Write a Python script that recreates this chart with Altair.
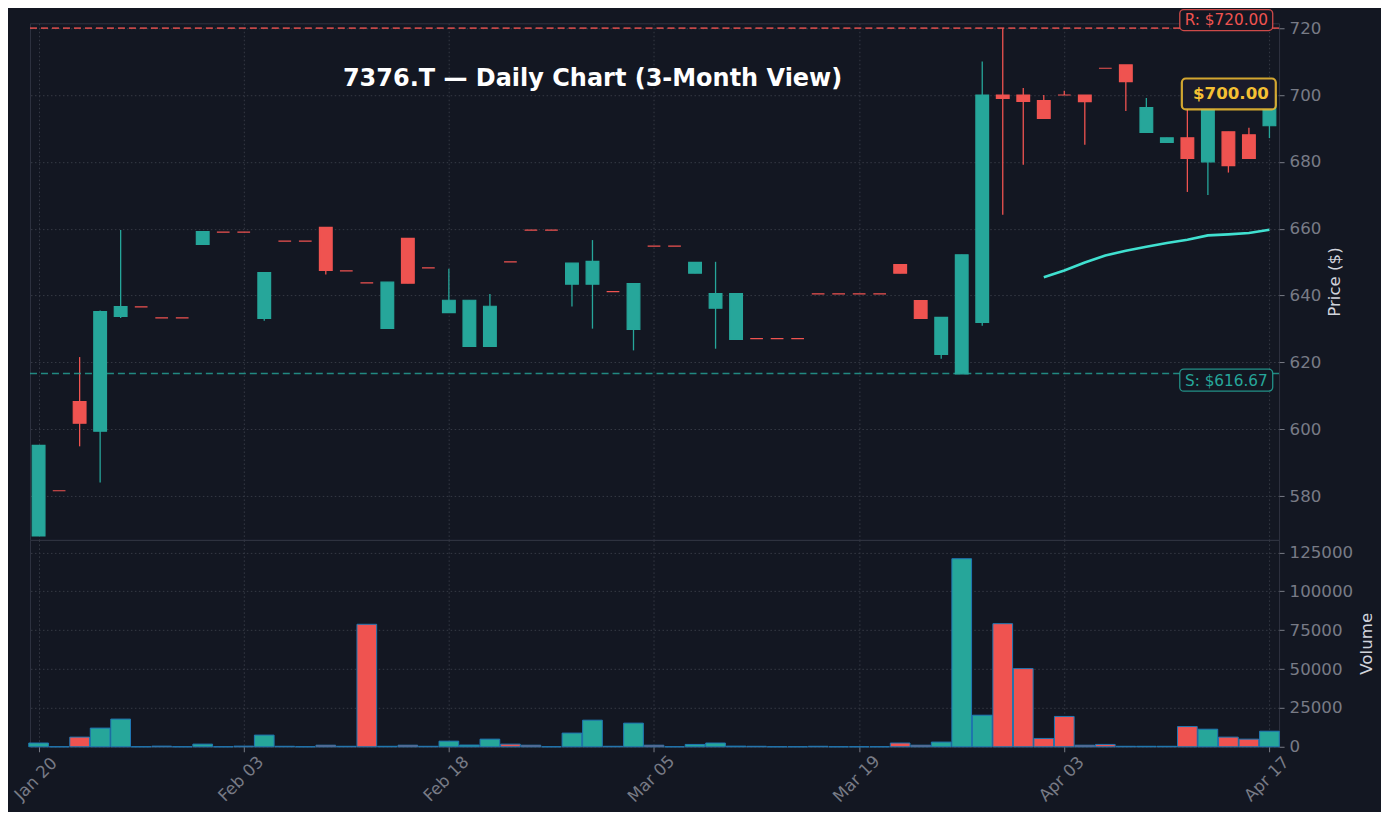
import altair as alt
import pandas as pd
import numpy as np

# ---------------- data ----------------
tick_idx = [0, 10, 20, 30, 40, 50, 60]
tick_labels = ["Jan 20", "Feb 03", "Feb 18", "Mar 05", "Mar 19", "Apr 03", "Apr 17"]

opens = [568.1, 581.6, 608.3, 599.4, 633.8, 636.6, 633.3, 633.3, 655.3, 659.0,
         659.0, 633.2, 656.3, 656.3, 660.4, 647.4, 643.8, 630.2, 657.1, 648.3,
         634.9, 624.8, 624.8, 650.1, 659.6, 659.6, 643.4, 643.4, 641.2, 629.9,
         654.8, 654.8, 646.7, 636.2, 626.9, 627.1, 627.1, 627.1, 640.5, 640.5,
         640.5, 640.5, 649.3, 638.5, 622.4, 616.6, 632.0, 700.0, 700.0, 698.3,
         700.0, 700.0, 708.0, 709.0, 688.8, 685.8, 687.2, 680.0, 689.0, 688.1,
         690.8]
highs = [595.2, 581.6, 621.6, 635.5, 659.6, 636.6, 633.3, 633.3, 659.1, 659.0,
         659.0, 646.9, 656.3, 656.3, 660.4, 647.4, 643.8, 644.0, 657.1, 648.3,
         648.0, 638.6, 640.5, 650.1, 659.6, 659.6, 649.7, 656.6, 641.2, 643.6,
         654.8, 654.8, 649.9, 650.1, 640.6, 627.1, 627.1, 627.1, 640.5, 640.5,
         640.5, 640.5, 649.3, 638.5, 633.5, 652.2, 710.0, 720.0, 702.1, 700.0,
         701.3, 700.0, 708.0, 709.0, 699.1, 687.2, 697.0, 700.0, 689.0, 690.2,
         700.0]
lows = [568.1, 581.6, 594.9, 584.1, 633.3, 636.6, 633.3, 633.3, 655.3, 659.0,
        659.0, 632.5, 656.3, 656.3, 646.3, 647.4, 643.8, 630.2, 643.7, 648.3,
        634.9, 624.8, 624.8, 650.1, 659.6, 659.6, 636.7, 630.1, 641.2, 623.6,
        654.8, 654.8, 646.7, 624.1, 626.9, 627.1, 627.1, 627.1, 640.5, 640.5,
        640.5, 640.5, 646.7, 633.2, 621.1, 616.6, 631.0, 664.2, 679.1, 693.0,
        700.0, 685.1, 708.0, 695.2, 688.8, 685.8, 671.0, 670.1, 676.8, 681.0,
        687.1]
closes = [595.2, 581.6, 601.8, 635.2, 636.7, 636.6, 633.3, 633.3, 659.1, 659.0,
          659.0, 646.9, 656.3, 656.3, 647.5, 647.4, 643.8, 644.0, 643.7, 648.3,
          638.6, 638.6, 636.8, 650.1, 659.6, 659.6, 649.7, 650.2, 641.2, 643.6,
          654.8, 654.8, 649.9, 640.6, 640.6, 627.1, 627.1, 627.1, 640.5, 640.5,
          640.5, 640.5, 646.7, 633.2, 633.5, 652.2, 700.0, 699.0, 698.1, 693.0,
          700.0, 698.0, 708.0, 704.0, 696.2, 687.2, 681.0, 699.0, 678.9, 681.0,
          700.0]
volumes = [2400, 0, 6200, 12000, 17800, 0, 400, 0, 1700, 0,
           400, 7500, 300, 0, 1000, 300, 78800, 300, 1000, 300,
           3600, 1100, 4900, 1700, 1000, 0, 8800, 17100, 300, 15200,
           1000, 0, 1500, 2400, 400, 300, 0, 0, 300, 0,
           0, 0, 2400, 1000, 3000, 121000, 20300, 79200, 50300, 5350,
           19500, 1000, 1500, 300, 300, 300, 13000, 11300, 6200, 4900,
           10000]
ma_index = [49, 50, 51, 52, 53, 54, 55, 56, 57, 58, 59, 60]
ma_values = [645.5, 647.5, 649.9, 652.0, 653.4, 654.6, 655.7, 656.7, 658.0, 658.3, 658.7, 659.7]

support = 616.67
resistance = 720.0
last_price = 700.0
title_text = "7376.T — Daily Chart (3-Month View)"

# ---------------- style ----------------
BG = "#131722"
UP = "#26a69a"
DOWN = "#ef5350"
GRID = "#363a45"
LABEL = "#787b86"
TITLE_C = "#d1d4dc"
YELLOW = "#f5c033"
FONT = "DejaVu Sans"
TICK_FS = 16.67

df = pd.DataFrame({"i": list(range(len(opens))), "open": opens, "high": highs,
                   "low": lows, "close": closes, "volume": volumes})
df["dir"] = np.where(df["close"] > df["open"], "up", "down")
df["lo"] = df[["open", "close"]].min(axis=1)
df["hi"] = df[["open", "close"]].max(axis=1)

ma_df = pd.DataFrame({"i": ma_index, "ma": ma_values})

xscale = alt.Scale(domain=[-0.42, 60.47], nice=False, zero=False)
yscale = alt.Scale(domain=[566.9, 721.46], nice=False, zero=False)
vscale = alt.Scale(domain=[0, 133100], nice=False, zero=False)
cscale = alt.Scale(domain=["up", "down"], range=[UP, DOWN])

label_expr = "[" + ",".join("'%s'" % t for t in tick_labels) + "][round(datum.value/10)]"

x_grid_axis = alt.Axis(values=tick_idx, grid=True, labels=False, ticks=False, domain=False,
                       title=None, gridColor=GRID, gridDash=[1.5, 2.5], gridWidth=1)
y_price_axis = alt.Axis(orient="right", values=[580, 600, 620, 640, 660, 680, 700, 720],
                        grid=True, gridColor=GRID, gridDash=[1.5, 2.5], gridWidth=1,
                        domain=False, tickColor=LABEL, tickSize=5, labelPadding=5,
                        title="Price ($)", titleAngle=270, titlePadding=23)


def PX(field):
    return alt.X(field, scale=xscale, axis=x_grid_axis)


def PY(field):
    return alt.Y(field, scale=yscale, axis=y_price_axis)


base = alt.Chart(df)

wicks = base.mark_rule(strokeWidth=1.3).encode(
    x=PX("i:Q"), y=PY("low:Q"), y2="high:Q",
    color=alt.Color("dir:N", scale=cscale, legend=None),
)

bodies = base.transform_calculate(
    x0="datum.i - 0.31", x1="datum.i + 0.31"
).mark_rect(strokeWidth=1.2).encode(
    x=PX("x0:Q"), x2="x1:Q", y=PY("lo:Q"), y2="hi:Q",
    color=alt.Color("dir:N", scale=cscale, legend=None),
    stroke=alt.Stroke("dir:N", scale=cscale, legend=None),
)

r_line = alt.Chart(pd.DataFrame({"y": [resistance]})).mark_rule(
    color=DOWN, strokeDash=[7, 4], strokeWidth=1.6, opacity=0.8
).encode(y=PY("y:Q"))

s_line = alt.Chart(pd.DataFrame({"y": [support]})).mark_rule(
    color=UP, strokeDash=[7, 4], strokeWidth=1.6, opacity=0.8
).encode(y=PY("y:Q"))

ma_line = alt.Chart(ma_df).mark_line(color="#40e0d0", strokeWidth=2.6).encode(
    x=PX("i:Q"), y=PY("ma:Q"),
)


def label_box(x0, x1, y0, y1, stroke, fill, width):
    return alt.Chart(pd.DataFrame({"x0": [x0], "x1": [x1], "y0": [y0], "y1": [y1]})).mark_rect(
        cornerRadius=4, stroke=stroke, fill=fill, strokeWidth=width, strokeOpacity=0.85
    ).encode(x=PX("x0:Q"), x2="x1:Q", y=PY("y0:Q"), y2="y1:Q")


def label_text(x, y, text, color, size, weight, align, dy):
    return alt.Chart(pd.DataFrame({"x": [x], "y": [y], "t": [text]})).mark_text(
        color=color, font=FONT, fontSize=size, fontWeight=weight, baseline="middle",
        align=align, dy=dy
    ).encode(x=PX("x:Q"), y=PY("y:Q"), text="t:N")


r_box = label_box(55.63, 60.16, 719.28, 725.55, DOWN, BG, 1.3)
s_box = label_box(55.63, 60.16, 611.41, 617.99, UP, BG, 1.3)
p_box = label_box(55.73, 60.31, 695.68, 704.94, YELLOW, "#1b1b2b", 2.2)
r_text = label_text(57.9, resistance, "R: $%.2f" % resistance, DOWN, 15.3, "normal", "center", -8)
s_text = label_text(57.9, support, "S: $%.2f" % support, UP, 15.3, "normal", "center", 7)
p_text = label_text(59.97, last_price, "$%.2f" % last_price, YELLOW, 16.67, "bold", "right", -1)

title_mark = alt.Chart(pd.DataFrame({"t": [title_text]})).mark_text(
    color="#ffffff", font=FONT, fontSize=24, fontWeight="bold", align="center", baseline="middle"
).encode(text="t:N", x=alt.value(563), y=alt.value(55.5))

price = alt.layer(
    wicks, r_line, s_line, bodies, ma_line, r_box, s_box, p_box, r_text, s_text, p_text, title_mark
).properties(width=1250, height=517)

# ---------------- volume ----------------
vol_bars = base.transform_calculate(
    x0="datum.i - 0.48", x1="datum.i + 0.48", zero="0"
).mark_rect(stroke="#1f77b4", strokeWidth=1).encode(
    x=alt.X("x0:Q", scale=xscale,
            axis=alt.Axis(values=tick_idx, labelExpr=label_expr, labelAngle=315,
                          labelAlign="center", labelBaseline="middle", grid=True,
                          gridColor=GRID, gridDash=[1.5, 2.5], gridWidth=1,
                          domain=False, tickColor=LABEL, tickSize=5, labelPadding=27,
                          labelOffset=-3, title=None)),
    x2="x1:Q",
    y=alt.Y("volume:Q", scale=vscale,
            axis=alt.Axis(orient="right", values=[0, 25000, 50000, 75000, 100000, 125000],
                          format="d", grid=True, gridColor=GRID, gridDash=[1.5, 2.5],
                          gridWidth=1, domain=False, tickColor=LABEL, tickSize=5,
                          labelPadding=5, title="Volume", titleAngle=270, titlePadding=23)),
    y2="zero:Q",
    color=alt.Color("dir:N", scale=cscale, legend=None),
)

volume = vol_bars.properties(width=1250, height=207)

chart = alt.vconcat(price, volume, spacing=0, bounds="flush").properties(
    background=BG,
    padding={"left": 3, "top": 0, "right": 5, "bottom": 5},
).configure_view(
    stroke="#2f3340", strokeWidth=1
).configure_axis(
    labelColor=LABEL, labelFont=FONT, labelFontSize=TICK_FS,
    titleColor=TITLE_C, titleFont=FONT, titleFontSize=16.67, titleFontWeight="normal",
)

chart.save("out.html", embed_options={"renderer": "svg", "actions": False})
